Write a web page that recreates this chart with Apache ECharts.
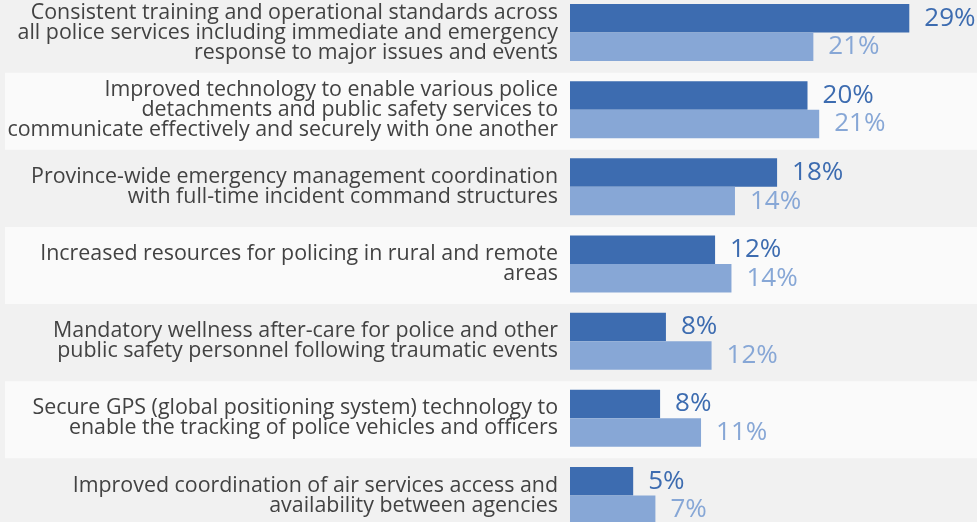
<!DOCTYPE html>
<html>
<head>
<meta charset="utf-8">
<script src="https://cdn.jsdelivr.net/npm/echarts@6/dist/echarts.min.js"></script>
<style>
  html, body { margin: 0; padding: 0; background: #f1f1f1; }
  #chart { width: 977px; height: 522px; }
</style>
</head>
<body>
<div id="chart"></div>
<script>
// categories (top to bottom)
const categories = [
  'Consistent training and operational standards across\nall police services including immediate and emergency\nresponse to major issues and events',
  'Improved technology to enable various police\ndetachments and public safety services to\ncommunicate effectively and securely with one another',
  'Province-wide emergency management coordination\nwith full-time incident command structures',
  'Increased resources for policing in rural and remote\nareas',
  'Mandatory wellness after-care for police and other\npublic safety personnel following traumatic events',
  'Secure GPS (global positioning system) technology to\nenable the tracking of police vehicles and officers',
  'Improved coordination of air services access and\navailability between agencies'
];

// values (%)
const darkValues = [29.0, 20.3, 17.7, 12.4, 8.2, 7.7, 5.4];
const lightValues = [20.8, 21.3, 14.1, 13.8, 12.1, 11.2, 7.3];

const darkColor = '#3d6cb0';
const lightColor = '#87a7d6';

const myChart = echarts.init(document.getElementById('chart'));

const pct = function (p) { return Math.round(p.value) + '%'; };

const option = {
  backgroundColor: '#f1f1f1',
  animation: false,
  textStyle: { fontFamily: 'Open Sans' },
  grid: [
    // background bands
    { left: 5, right: 0, top: -4.5, height: 540, outerBoundsMode: 'none', containLabel: false },
    // bars
    { left: 570, right: 56, top: -6, height: 540, outerBoundsMode: 'none', containLabel: false }
  ],
  xAxis: [
    { gridIndex: 0, type: 'value', show: false, min: 0, max: 1 },
    { gridIndex: 1, type: 'value', show: false, min: 0, max: 30 }
  ],
  yAxis: [
    {
      gridIndex: 0,
      type: 'category',
      inverse: true,
      data: categories,
      axisLine: { show: false },
      axisTick: { show: false },
      axisLabel: { show: false },
      splitArea: { show: true, areaStyle: { color: ['rgba(0,0,0,0)', '#fafafa'] } }
    },
    {
      gridIndex: 1,
      type: 'category',
      inverse: true,
      data: categories,
      axisLine: { show: false },
      axisTick: { show: false },
      axisLabel: {
        margin: 12,
        align: 'right',
        fontSize: 21.4,
        lineHeight: 20,
        padding: [5, 0, 0, 0],
        color: '#424242',
        fontFamily: 'Open Sans'
      }
    }
  ],
  series: [
    {
      type: 'bar',
      xAxisIndex: 1,
      yAxisIndex: 1,
      data: darkValues,
      barWidth: 28.5,
      barGap: '0%',
      itemStyle: { color: darkColor },
      label: {
        show: true,
        position: 'right',
        distance: 15,
        fontSize: 26,
        color: darkColor,
        fontFamily: 'Open Sans',
        formatter: pct
      }
    },
    {
      type: 'bar',
      xAxisIndex: 1,
      yAxisIndex: 1,
      data: lightValues,
      barWidth: 28.5,
      barGap: '0%',
      itemStyle: { color: lightColor },
      label: {
        show: true,
        position: 'right',
        distance: 15,
        fontSize: 26,
        color: lightColor,
        fontFamily: 'Open Sans',
        formatter: pct
      }
    }
  ]
};

myChart.setOption(option);
</script>
</body>
</html>
